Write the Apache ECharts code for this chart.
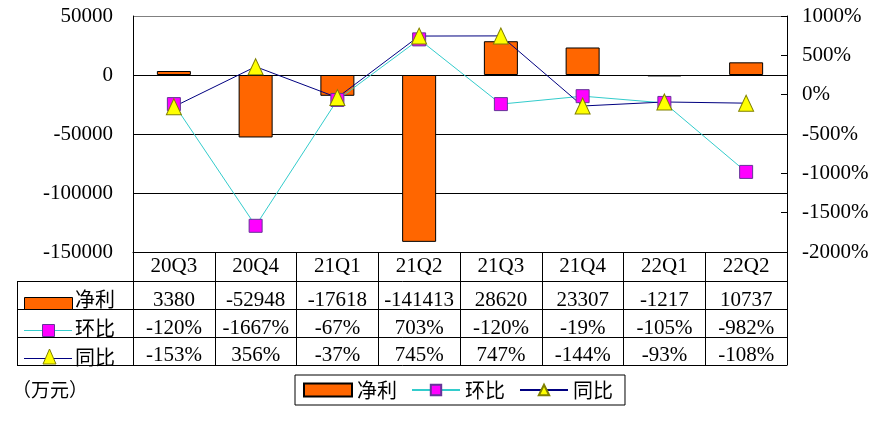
<!DOCTYPE html>
<html><head><meta charset="utf-8">
<script src="https://cdn.jsdelivr.net/npm/echarts@6/dist/echarts.min.js"></script>
<style>html,body{margin:0;padding:0;background:#fff;}#c{width:883px;height:433px;}</style>
</head><body><div id="c"></div>
<script>
const categories = ['20Q3','20Q4','21Q1','21Q2','21Q3','21Q4','22Q1','22Q2'];
const netProfit = [3380, -52948, -17618, -141413, 28620, 23307, -1217, 10737];
const qoq = [-120, -1667, -67, 703, -120, -19, -105, -982];
const yoy = [-153, 356, -37, 745, 747, -144, -93, -108];
const seriesNames = ['净利', '环比', '同比'];
const unitLabel = '（万元）';

const NUM_FONT = "'Liberation Serif', 'Noto Sans CJK SC', serif";
const CJK_FONT = "'Noto Sans CJK SC', sans-serif";
const GL = 133, GR = 787, GT = 16, GB = 252;
const rowLines = [281, 309, 337, 365];
const TL = 17;

const chart = echarts.init(document.getElementById('c'), null, {renderer: 'canvas'});

function rowAxis(data, margin) {
  return {
    type: 'category', gridIndex: 0, position: 'bottom', data: data,
    axisLine: {show: false, onZero: false}, axisTick: {show: false}, splitLine: {show: false},
    axisLabel: {interval: 0, margin: margin, verticalAlign: 'middle', color: '#000', fontSize: 21, fontFamily: NUM_FONT}
  };
}

const graphics = [];
rowLines.forEach(y => graphics.push({type: 'line', shape: {x1: TL, y1: y + 0.5, x2: GR + 0.5, y2: y + 0.5}, style: {stroke: '#000', lineWidth: 1}, silent: true}));
graphics.push({type: 'line', shape: {x1: TL + 0.5, y1: rowLines[0], x2: TL + 0.5, y2: rowLines[3] + 1}, style: {stroke: '#000', lineWidth: 1}});
// row keys
graphics.push({type: 'rect', shape: {x: 24.5, y: 297.5, width: 48, height: 12}, style: {fill: '#FF6600', stroke: '#000', lineWidth: 1}});
graphics.push({type: 'line', shape: {x1: 24, y1: 330.5, x2: 72, y2: 330.5}, style: {stroke: '#33CCCC', lineWidth: 1}});
graphics.push({type: 'rect', shape: {x: 42.5, y: 324.5, width: 12, height: 12}, style: {fill: '#FF00FF', stroke: '#663399', lineWidth: 1}});
graphics.push({type: 'line', shape: {x1: 24, y1: 358.5, x2: 72, y2: 358.5}, style: {stroke: '#000080', lineWidth: 1}});
graphics.push({type: 'polygon', shape: {points: [[49.5, 349], [43, 364], [56, 364]]}, style: {fill: '#FFFF00', stroke: '#808000', lineWidth: 1}});
[[seriesNames[0], 299], [seriesNames[1], 328], [seriesNames[2], 357]].forEach(([t, y]) => {
  graphics.push({type: 'text', x: 75, y: y, style: {text: t, fontSize: 20, fontFamily: CJK_FONT, fill: '#000', verticalAlign: 'middle', align: 'left'}});
});
graphics.push({type: 'text', x: 12, y: 390, style: {text: unitLabel, fontSize: 19, fontFamily: CJK_FONT, fill: '#000', verticalAlign: 'middle', align: 'left'}});

const option = {
  backgroundColor: '#fff',
  animation: false,
  grid: {left: GL, right: 883 - GR, top: GT, bottom: 433 - GB, containLabel: false, outerBoundsMode: 'none'},
  legend: {
    left: 295, top: 375, orient: 'horizontal',
    padding: [5, 12, 5, 8], itemGap: 14, itemWidth: 48, itemHeight: 13,
    borderColor: '#000', borderWidth: 1, backgroundColor: '#fff',
    textStyle: {fontSize: 20, fontFamily: CJK_FONT, color: '#000'},
    data: [{name: seriesNames[0], icon: 'rect'}, seriesNames[1], seriesNames[2]]
  },
  xAxis: [
    {
      type: 'category', gridIndex: 0, position: 'bottom', data: categories, boundaryGap: true,
      axisLine: {show: true, onZero: false, lineStyle: {color: '#000', width: 1}},
      axisTick: {show: true, interval: 0, length: 113, inside: false, lineStyle: {color: '#000', width: 1}},
      splitLine: {show: false},
      axisLabel: {interval: 0, margin: 14, verticalAlign: 'middle', color: '#000', fontSize: 21, fontFamily: NUM_FONT}
    },
    rowAxis(netProfit.map(v => String(v)), 48),
    rowAxis(qoq.map(v => v + '%'), 76),
    rowAxis(yoy.map(v => v + '%'), 103)
  ],
  yAxis: [
    {
      type: 'value', position: 'left', min: -150000, max: 50000, interval: 50000,
      axisLine: {show: true, lineStyle: {color: '#000', width: 1}},
      axisTick: {show: false},
      splitLine: {show: true, lineStyle: {color: ['#000', '#000', '#000', '#000', '#808080'], width: 1}},
      axisLabel: {margin: 20, color: '#000', fontSize: 21, fontFamily: NUM_FONT, formatter: v => String(v)}
    },
    {
      type: 'value', position: 'right', min: -2000, max: 1000, interval: 500,
      axisLine: {show: true, lineStyle: {color: '#000', width: 1}},
      axisTick: {show: true, inside: true, length: 6, lineStyle: {color: '#000'}},
      splitLine: {show: false},
      axisLabel: {margin: 15, color: '#000', fontSize: 21, fontFamily: NUM_FONT, formatter: v => v + '%'}
    }
  ],
  series: [
    {
      name: seriesNames[0], type: 'bar', xAxisIndex: 0, yAxisIndex: 0, data: netProfit, barWidth: 34,
      itemStyle: {color: '#FF6600', borderColor: '#000', borderWidth: 1, borderRadius: 0}
    },
    {
      name: seriesNames[1], type: 'line', xAxisIndex: 0, yAxisIndex: 1, data: qoq,
      symbol: 'rect', symbolSize: 13, showAllSymbol: true,
      lineStyle: {color: '#33CCCC', width: 1},
      itemStyle: {color: '#FF00FF', borderColor: '#663399', borderWidth: 1}
    },
    {
      name: seriesNames[2], type: 'line', xAxisIndex: 0, yAxisIndex: 1, data: yoy,
      symbol: 'triangle', symbolSize: [15, 16], showAllSymbol: true,
      lineStyle: {color: '#000080', width: 1},
      itemStyle: {color: '#FFFF00', borderColor: '#808000', borderWidth: 1}
    }
  ],
  graphic: graphics
};
chart.setOption(option);
</script>
</body></html>
